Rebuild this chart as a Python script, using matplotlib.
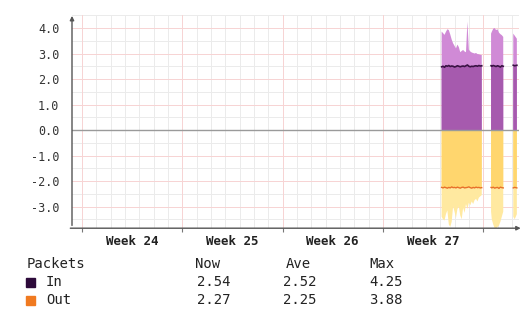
import numpy as np
import matplotlib
import matplotlib.pyplot as plt

matplotlib.use('Agg')

# time in days from the start of week 24; None marks a gap in the data
days = [25.1, 25.2, 25.3, 25.4, 25.5, 25.6, 25.7, 25.8, 25.9, 26.0,
        26.1, 26.2, 26.3, 26.4, 26.5, 26.6, 26.7, 26.8, 26.9, 27.0,
        27.1, 27.2, 27.3, 27.4, 27.5, 27.6, 27.7, 27.8, 27.9, 28.2,
        28.55, 28.6, 28.7, 28.8, 28.9, 29.0, 29.1, 29.2, 29.3, 29.4,
        29.7, 30.1, 30.2, 30.35]
in_max = [3.86, 3.80, 3.73, 3.85, 3.95, 3.92, 3.75, 3.55, 3.40, 3.30,
          3.20, 3.35, 3.25, 3.05, 3.10, 3.14, 3.08, 3.05, 4.25, 3.15,
          3.08, 3.04, 3.02, 3.00, 3.02, 2.98, 2.97, 2.95, 2.94, None,
          3.78, 3.85, 3.97, 4.00, 3.92, 3.95, 3.82, 3.76, 3.72, 3.65,
          None, 3.78, 3.70, 3.58]
in_avg = [2.48, 2.50, 2.46, 2.52, 2.50, 2.53, 2.49, 2.51, 2.50, 2.47,
          2.49, 2.52, 2.50, 2.48, 2.50, 2.51, 2.49, 2.52, 2.55, 2.50,
          2.48, 2.50, 2.49, 2.51, 2.52, 2.50, 2.53, 2.51, 2.52, None,
          2.52, 2.50, 2.53, 2.51, 2.49, 2.52, 2.50, 2.47, 2.52, 2.50,
          None, 2.54, 2.52, 2.54]
out_max = [3.40, 3.50, 3.55, 3.30, 3.15, 3.70, 3.80, 3.60, 3.00, 3.20,
           3.45, 3.10, 3.00, 3.35, 3.50, 3.05, 3.25, 2.90, 3.10, 2.85,
           2.95, 2.80, 2.90, 2.75, 2.70, 2.80, 2.65, 2.60, 2.55, None,
           3.20, 3.50, 3.70, 3.85, 3.88, 3.80, 3.75, 3.60, 3.40, 3.20,
           None, 3.40, 3.50, 3.30]
out_avg = [2.25, 2.27, 2.24, 2.26, 2.28, 2.25, 2.27, 2.23, 2.26, 2.25,
           2.27, 2.24, 2.26, 2.28, 2.25, 2.24, 2.27, 2.26, 2.25, 2.23,
           2.26, 2.28, 2.25, 2.27, 2.24, 2.26, 2.25, 2.27, 2.26, None,
           2.25, 2.27, 2.24, 2.28, 2.26, 2.25, 2.29, 2.24, 2.26, 2.27,
           None, 2.27, 2.25, 2.27]

week_labels = ['Week 24', 'Week 25', 'Week 26', 'Week 27']
y_ticks = [4, 3, 2, 1, 0, -1, -2, -3]
legend_rows = [('In', '2.54', '2.52', '4.25'), ('Out', '2.27', '2.25', '3.88')]

def arr(v):
    return np.array([np.nan if x is None else x for x in v], dtype=float)

t = np.array(days)
imx, iav, omx, oav = arr(in_max), arr(in_avg), -arr(out_max), -arr(out_avg)

W, H = 524, 309
fig = plt.figure(figsize=(W / 100, H / 100), dpi=100)
ax = fig.add_axes([72 / W, 1 - 228.2 / H, (519 - 72) / W, (228.2 - 15.25) / H])
ax.set_xlim(-0.7, 30.5)
ax.set_ylim(-3.85, 4.5)

# grid: gray minor lines, pink major lines
for d in range(0, 31):
    ax.axvline(d, color='#ebebeb', lw=0.7, zorder=0)
for d in range(0, 35, 7):
    ax.axvline(d, color='#f8d4d4', lw=0.7, zorder=0.5)
for y in np.arange(-3.5, 4.6, 0.5):
    ax.axhline(y, color='#ebebeb', lw=0.7, zorder=0)
for y in y_ticks:
    ax.axhline(y, color='#f8d4d4', lw=0.7, zorder=0.5)

ax.fill_between(t, 0, imx, color='#d08ad6', lw=0, zorder=1)
ax.fill_between(t, 0, iav, color='#a65aae', lw=0, zorder=2)
ax.fill_between(t, 0, omx, color='#ffe9a0', lw=0, zorder=1)
ax.fill_between(t, 0, oav, color='#ffd66e', lw=0, zorder=2)
ax.plot(t, iav, color='#3a1244', lw=1.2, zorder=3)
ax.plot(t, oav, color='#e8702a', lw=1.0, zorder=3)
ax.axhline(0, color='#9a9a9a', lw=1.0, zorder=2.5)

for s in ax.spines.values():
    s.set_visible(False)
ax.annotate('', xy=(0, 1.01), xytext=(0, 0), xycoords='axes fraction',
            arrowprops=dict(arrowstyle='-|>', color='#555555', lw=1, mutation_scale=6))
ax.annotate('', xy=(1.01, 0), xytext=(-0.01, 0), xycoords='axes fraction',
            arrowprops=dict(arrowstyle='-|>', color='#555555', lw=1, mutation_scale=6))

ax.set_yticks(y_ticks)
ax.set_yticklabels([f'{v:.1f}' for v in y_ticks])
ax.tick_params(axis='y', length=0, pad=9, labelsize=8.5, labelcolor='#333333')
ax.set_xticks([0, 7, 14, 21, 28])
ax.set_xticklabels([])
ax.tick_params(axis='x', which='major', length=3, width=0.8, color='#777777')
ax.set_xticks([3.5, 10.5, 17.5, 24.5], minor=True)
ax.set_xticklabels(week_labels, minor=True)
ax.tick_params(axis='x', which='minor', length=0, pad=5, labelsize=9, labelcolor='#222222')
for lab in ax.get_xticklabels(minor=True) + ax.get_yticklabels():
    lab.set_family('DejaVu Sans Mono')
for lab in ax.get_xticklabels(minor=True):
    lab.set_fontweight('bold')

def fx(px):
    return px / W

def fy(py):
    return 1 - py / H

kw = dict(family='DejaVu Sans Mono', fontsize=10, color='#222222', va='center')
fig.text(fx(27), fy(264), 'Packets', **kw)
fig.text(fx(195), fy(264), 'Now', **kw)
fig.text(fx(286), fy(264), 'Ave', **kw)
fig.text(fx(369), fy(264), 'Max', **kw)
sq_colors = ['#2d0a3a', '#f07a20']
for i, (name, now, ave, mx) in enumerate(legend_rows):
    yy = 282 + 18 * i
    fig.patches.append(plt.Rectangle((fx(26), fy(yy + 4.5)), 9 / W, 9 / H,
                                     transform=fig.transFigure, color=sq_colors[i]))
    fig.text(fx(46), fy(yy), name, **kw)
    fig.text(fx(197), fy(yy), now, **kw)
    fig.text(fx(283), fy(yy), ave, **kw)
    fig.text(fx(369), fy(yy), mx, **kw)

fig.savefig('out.png', dpi=100)
